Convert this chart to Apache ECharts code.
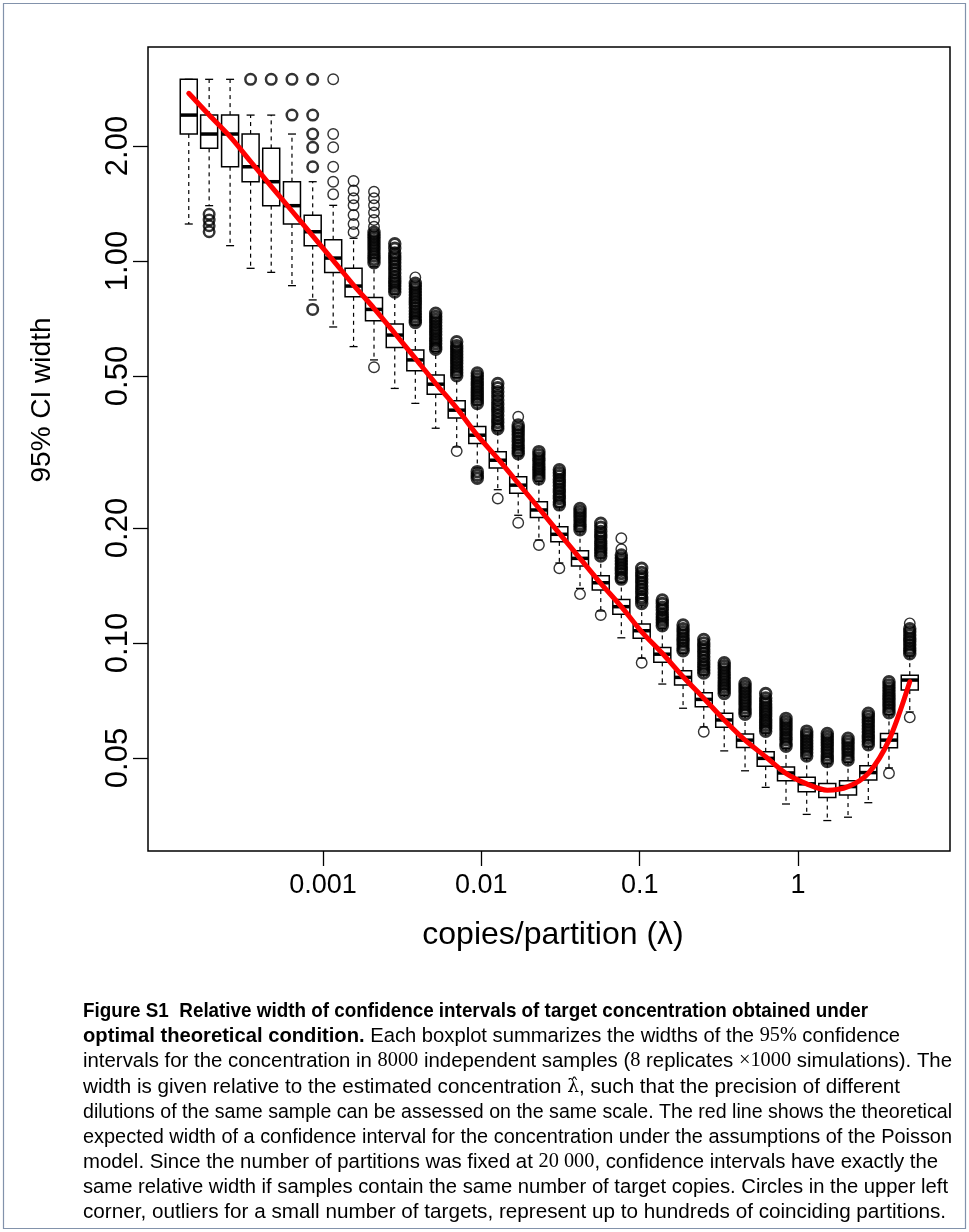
<!DOCTYPE html>
<html><head><meta charset="utf-8">
<script src="https://cdn.jsdelivr.net/npm/echarts@6/dist/echarts.min.js"></script>
<style>html,body{margin:0;padding:0;background:#fff;}#c{width:969px;height:1232px;}</style>
</head><body><div id="c"></div>
<script>
// ---------- data ----------
const lambda = [1.42e-4, 1.91e-4, 2.59e-4, 3.49e-4, 4.71e-4, 6.37e-4, 8.61e-4, 1.16e-3, 1.56e-3, 2.10e-3,
  2.84e-3, 3.83e-3, 5.15e-3, 6.99e-3, 9.43e-3, 0.0127, 0.0171, 0.0231, 0.0311, 0.0420,
  0.0568, 0.0766, 0.103, 0.139, 0.188, 0.254, 0.342, 0.463, 0.625, 0.840,
  1.135, 1.531, 2.070, 2.780, 3.755, 5.08];
const lowerWhisker = [1.25, 1.396, 1.097, 0.957, 0.934, 0.862, 0.791, 0.672, 0.597, 0.551,
  0.464, 0.424, 0.365, 0.326, 0.287, 0.252, 0.216, 0.186, 0.162, 0.139,
  0.1213, 0.1032, 0.0913, 0.0781, 0.0675, 0.0603, 0.0522, 0.0463, 0.0419, 0.0379,
  0.0356, 0.0343, 0.0350, 0.0382, 0.0471, 0.0660];
const q1 = [2.15, 1.972, 1.765, 1.613, 1.396, 1.250, 1.097, 0.933, 0.806, 0.698,
  0.594, 0.516, 0.448, 0.388, 0.333, 0.287, 0.2465, 0.213, 0.184, 0.159,
  0.1376, 0.119, 0.1029, 0.089, 0.0776, 0.0681, 0.0602, 0.0533, 0.0476, 0.0436,
  0.0408, 0.0394, 0.0400, 0.0438, 0.0532, 0.0753];
const median = [2.41, 2.15, 2.15, 1.765, 1.613, 1.396, 1.193, 1.018, 0.860, 0.747,
  0.640, 0.551, 0.476, 0.407, 0.350, 0.301, 0.259, 0.223, 0.1926, 0.1666,
  0.1438, 0.1245, 0.1077, 0.0935, 0.0813, 0.0712, 0.0629, 0.0557, 0.0499, 0.0457,
  0.0428, 0.0412, 0.0421, 0.0458, 0.0557, 0.0800];
const q3 = [2.99, 2.41, 2.41, 2.15, 1.972, 1.613, 1.317, 1.137, 0.957, 0.803,
  0.684, 0.585, 0.503, 0.431, 0.369, 0.317, 0.2724, 0.2344, 0.2016, 0.1744,
  0.150, 0.130, 0.1121, 0.0974, 0.0846, 0.0741, 0.0655, 0.0578, 0.0519, 0.0474,
  0.0445, 0.0429, 0.0436, 0.0477, 0.0580, 0.0824];
const upperWhisker = [2.99, 2.99, 2.99, 2.41, 2.41, 2.15, 1.613, 1.399, 1.147, 0.966,
  0.819, 0.680, 0.580, 0.495, 0.420, 0.360, 0.309, 0.265, 0.227, 0.196,
  0.167, 0.144, 0.125, 0.109, 0.094, 0.0825, 0.0728, 0.0643, 0.0581, 0.0529,
  0.0498, 0.0483, 0.0487, 0.0535, 0.0650, 0.0925];
const outliers = [
  [],
  [1.325, 1.280, 1.237, 1.193],
  [],
  [2.99],
  [2.99],
  [2.99, 2.41],
  [2.99, 2.41, 2.15, 1.985, 1.765, 0.747],
  [2.99, 2.15, 1.985, 1.765, 1.613, 1.495],
  [1.62, 1.53, 1.46, 1.40, 1.32, 1.25, 1.19],
  [1.518, 1.46, 1.40, 1.34, 1.28, 1.23, 1.19, 1.17, 1.15, 1.13, 1.11, 1.09, 1.07, 1.05, 1.03, 1.01, 0.99, 0.527],
  [1.11, 1.08, 1.05, 1.03, 1.01, 0.99, 0.97, 0.95, 0.93, 0.91, 0.89, 0.875, 0.86, 0.845, 0.83],
  [0.906, 0.874, 0.86, 0.845, 0.83, 0.815, 0.80, 0.785, 0.77, 0.755, 0.74, 0.727, 0.714, 0.701, 0.69],
  [0.730, 0.716, 0.703, 0.690, 0.677, 0.665, 0.653, 0.641, 0.629, 0.618, 0.607, 0.596, 0.588],
  [0.615, 0.600, 0.590, 0.580, 0.569, 0.559, 0.549, 0.539, 0.529, 0.519, 0.510, 0.501, 0.318],
  [0.509, 0.500, 0.491, 0.482, 0.473, 0.465, 0.456, 0.448, 0.440, 0.432, 0.424, 0.281, 0.275, 0.270],
  [0.478, 0.466, 0.455, 0.444, 0.433, 0.422, 0.413, 0.404, 0.395, 0.386, 0.378, 0.370, 0.364, 0.239],
  [0.391, 0.372, 0.365, 0.358, 0.351, 0.344, 0.337, 0.330, 0.324, 0.318, 0.313, 0.2065],
  [0.317, 0.311, 0.305, 0.300, 0.294, 0.289, 0.284, 0.279, 0.274, 0.269, 0.1805],
  [0.284, 0.279, 0.274, 0.268, 0.263, 0.258, 0.253, 0.248, 0.243, 0.239, 0.234, 0.230, 0.157],
  [0.225, 0.221, 0.217, 0.213, 0.209, 0.205, 0.2015, 0.198, 0.1343],
  [0.2058, 0.201, 0.196, 0.192, 0.189, 0.185, 0.182, 0.178, 0.175, 0.172, 0.169, 0.1184],
  [0.188, 0.176, 0.170, 0.167, 0.164, 0.161, 0.158, 0.155, 0.152, 0.149, 0.147],
  [0.157, 0.153, 0.150, 0.147, 0.144, 0.141, 0.138, 0.135, 0.132, 0.130, 0.127, 0.0888],
  [0.1296, 0.127, 0.124, 0.122, 0.119, 0.117, 0.115, 0.113, 0.111],
  [0.1115, 0.109, 0.107, 0.105, 0.103, 0.101, 0.099, 0.097, 0.0955],
  [0.1022, 0.100, 0.098, 0.096, 0.094, 0.092, 0.090, 0.088, 0.0865, 0.085, 0.0835, 0.0586],
  [0.0888, 0.0872, 0.0856, 0.0840, 0.0825, 0.0810, 0.0795, 0.0780, 0.0766, 0.0752, 0.0738],
  [0.0784, 0.0770, 0.0756, 0.0742, 0.0728, 0.0715, 0.0702, 0.0689, 0.0676, 0.0663, 0.0651],
  [0.0738, 0.0718, 0.0705, 0.0692, 0.0679, 0.0667, 0.0655, 0.0643, 0.0631, 0.0620, 0.0609, 0.0598, 0.0588],
  [0.0635, 0.0623, 0.0612, 0.0601, 0.0590, 0.0579, 0.0568, 0.0558, 0.0547, 0.0537],
  [0.0588, 0.0577, 0.0567, 0.0556, 0.0546, 0.0536, 0.0526, 0.0516, 0.0506],
  [0.0580, 0.0569, 0.0559, 0.0549, 0.0539, 0.0529, 0.0519, 0.0509, 0.0499, 0.0490],
  [0.0563, 0.0553, 0.0543, 0.0533, 0.0523, 0.0513, 0.0503, 0.0494],
  [0.0655, 0.0643, 0.0631, 0.0619, 0.0607, 0.0596, 0.0585, 0.0574, 0.0563, 0.0552, 0.0542],
  [0.0792, 0.0777, 0.0763, 0.0749, 0.0735, 0.0721, 0.0708, 0.0695, 0.0682, 0.0669, 0.0657, 0.0456],
  [0.1126, 0.109, 0.107, 0.105, 0.103, 0.101, 0.099, 0.097, 0.0955, 0.0938, 0.0639]
];
const theory = [2.748, 2.41, 2.116, 1.822, 1.569, 1.352, 1.164, 1.004, 0.865, 0.752,
  0.647, 0.556, 0.478, 0.412, 0.350, 0.304, 0.262, 0.2253, 0.1937, 0.1666,
  0.1433, 0.1245, 0.1070, 0.0940, 0.0816, 0.0717, 0.0629, 0.0557, 0.0504, 0.0456,
  0.0428, 0.0412, 0.0421, 0.0456, 0.0557, 0.0792];
const xTicks = [0.001, 0.01, 0.1, 1];
const xTickLabels = ['0.001', '0.01', '0.1', '1'];
const yTicks = [0.05, 0.1, 0.2, 0.5, 1, 2];
const yTickLabels = ['0.05', '0.10', '0.20', '0.50', '1.00', '2.00'];
const xTitle = 'copies/partition (λ)';
const yTitle = '95% CI width';
const captionLines = [
  '{b|Figure S1  Relative width of confidence intervals of target concentration obtained under}',
  '{b|optimal theoretical condition.} Each boxplot summarizes the widths of the {m|95%} confidence',
  'intervals for the concentration in {m|8000} independent samples ({m|8} replicates {m|×1000} simulations). The',
  'width is given relative to the estimated concentration {h|λ̂}, such that the precision of different',
  'dilutions of the same sample can be assessed on the same scale. The red line shows the theoretical',
  'expected width of a confidence interval for the concentration under the assumptions of the Poisson',
  'model. Since the number of partitions was fixed at {m|20 000}, confidence intervals have exactly the',
  'same relative width if samples contain the same number of target copies. Circles in the upper left',
  'corner, outliers for a small number of targets, represent up to hundreds of coinciding partitions.'
];

// ---------- layout constants ----------
const captionY = [1011, 1036, 1061, 1087, 1112, 1137, 1162, 1187, 1212];
const captionRight = [868, 900, 952, 900, 952, 952, 938, 948, 946];
const CAP_LEFT = 83;

// ---------- build series data ----------
const boxData = lambda.map((l, i) => [l, lowerWhisker[i], q1[i], median[i], q3[i], upperWhisker[i]]);
const boldOut = [], denseOut = [], thinOut = [];
outliers.forEach((arr, i) => arr.forEach(v => {
  const crowded = arr.some(w => w !== v && Math.abs(Math.log10(w / v)) < 0.012);
  (i < 7 ? boldOut : (crowded ? denseOut : thinOut)).push([lambda[i], v]);
}));
const lineData = lambda.map((l, i) => [l, theory[i]]);

const FONT = "'Liberation Sans', Arial, Helvetica, sans-serif";
const SERIF = "'Liberation Serif', 'DejaVu Serif', serif";
const chart = echarts.init(document.getElementById('c'), null, {renderer: 'canvas'});

function renderBox(params, api) {
  const x = api.value(0);
  const pLo = api.coord([x, api.value(1)]);
  const pQ1 = api.coord([x, api.value(2)]);
  const pMed = api.coord([x, api.value(3)]);
  const pQ3 = api.coord([x, api.value(4)]);
  const pHi = api.coord([x, api.value(5)]);
  const cx = pMed[0], hw = 8.5, cw = 4;
  const solid = {stroke: '#000', lineWidth: 1.3, fill: null};
  const dashed = {stroke: '#000', lineWidth: 1.2, lineDash: [4, 4], fill: null};
  return {type: 'group', children: [
    {type: 'line', shape: {x1: cx, y1: pQ3[1], x2: cx, y2: pHi[1]}, style: dashed},
    {type: 'line', shape: {x1: cx, y1: pQ1[1], x2: cx, y2: pLo[1]}, style: dashed},
    {type: 'line', shape: {x1: cx - cw, y1: pHi[1], x2: cx + cw, y2: pHi[1]}, style: solid},
    {type: 'line', shape: {x1: cx - cw, y1: pLo[1], x2: cx + cw, y2: pLo[1]}, style: solid},
    {type: 'rect', shape: {x: cx - hw, y: pQ3[1], width: 2 * hw, height: pQ1[1] - pQ3[1]},
      style: {fill: '#fff', stroke: '#000', lineWidth: 1.5}},
    {type: 'line', shape: {x1: cx - hw, y1: pMed[1], x2: cx + hw, y2: pMed[1]},
      style: {stroke: '#000', lineWidth: 3.5}}
  ]};
}

// caption: rich text, each line fitted horizontally to the reference line length
const CAP_SIZE = 20.5;
const rich = {
  b: {fontFamily: FONT, fontSize: CAP_SIZE, fontWeight: 'bold', fill: '#000'},
  m: {fontFamily: SERIF, fontSize: CAP_SIZE, fill: '#000'},
  h: {fontFamily: "'DejaVu Serif', serif", fontSize: CAP_SIZE - 2, fill: '#000'}
};
const mctx = document.createElement('canvas').getContext('2d');
function measureLine(line) {
  let w = 0, m;
  const re = /\{(\w)\|([^}]*)\}|([^{]+)/g;
  while ((m = re.exec(line))) {
    if (m[3] !== undefined) {
      mctx.font = CAP_SIZE + 'px ' + FONT; w += mctx.measureText(m[3]).width;
    } else {
      const st = rich[m[1]];
      mctx.font = (st.fontWeight || 'normal') + ' ' + st.fontSize + 'px ' + st.fontFamily;
      w += mctx.measureText(m[2]).width;
    }
  }
  return w;
}
const captionGraphics = captionLines.map((t, i) => ({
  type: 'text', x: CAP_LEFT, y: captionY[i],
  scaleX: (captionRight[i] - CAP_LEFT) / measureLine(t), scaleY: 1,
  style: {text: t, fill: '#000', fontFamily: FONT, fontSize: CAP_SIZE, verticalAlign: 'middle', textAlign: 'left', rich: rich}
}));

chart.setOption({
  animation: false,
  backgroundColor: '#fff',
  grid: {left: 148, top: 47, right: 19, bottom: 381, containLabel: false, outerBoundsMode: 'none',
    show: true, borderColor: '#000', borderWidth: 1.5, backgroundColor: 'transparent'},
  xAxis: {
    type: 'log', logBase: 10, min: 7.85e-5, max: 9.12,
    axisLine: {show: false},
    splitLine: {show: false},
    minorTick: {show: false},
    axisTick: {show: true, inside: false, length: 15, customValues: xTicks, lineStyle: {color: '#000', width: 1.3}},
    axisLabel: {show: true, customValues: xTicks, margin: 21, fontSize: 27, fontFamily: FONT, color: '#000',
      formatter: v => xTickLabels[xTicks.findIndex(t => Math.abs(Math.log10(t) - Math.log10(v)) < 1e-6)] || ''}
  },
  yAxis: {
    type: 'log', logBase: 10, min: 0.02855, max: 3.633,
    axisLine: {show: false},
    splitLine: {show: false},
    minorTick: {show: false},
    axisTick: {show: true, inside: false, length: 15, customValues: yTicks, lineStyle: {color: '#000', width: 1.3}},
    axisLabel: {show: true, customValues: yTicks, rotate: 90, margin: 14, fontSize: 31, fontFamily: FONT, color: '#000',
      formatter: v => yTickLabels[yTicks.findIndex(t => Math.abs(Math.log10(t) - Math.log10(v)) < 1e-6)] || ''}
  },
  series: [
    {type: 'custom', renderItem: renderBox, data: boxData, encode: {x: 0, y: [1, 2, 3, 4, 5]}, z: 3, silent: true},
    {type: 'scatter', data: thinOut, symbol: 'circle', symbolSize: 10.5, z: 4, silent: true,
      itemStyle: {color: 'transparent', borderColor: '#000', borderWidth: 1.4}},
    {type: 'scatter', data: denseOut, symbol: 'circle', symbolSize: 10.5, z: 4, silent: true,
      itemStyle: {color: 'transparent', borderColor: '#000', borderWidth: 3}},
    {type: 'scatter', data: boldOut, symbol: 'circle', symbolSize: 10.5, z: 4, silent: true,
      itemStyle: {color: 'transparent', borderColor: '#000', borderWidth: 2.5}},
    {type: 'line', data: lineData, smooth: 0.3, showSymbol: false, symbol: 'none', z: 6, silent: true,
      lineStyle: {color: '#ff0000', width: 5, cap: 'round', join: 'round'}}
  ],
  graphic: [
    {type: 'rect', shape: {x: 3.5, y: 3.5, width: 962, height: 1225}, style: {fill: null, stroke: '#8292ab', lineWidth: 1.2}, z: 100},
    {type: 'text', x: 553, y: 935, style: {text: xTitle, fontFamily: FONT, fontSize: 32, fill: '#000', textAlign: 'center', verticalAlign: 'middle'}},
    {type: 'text', x: 42, y: 400, rotation: Math.PI / 2, style: {text: yTitle, fontFamily: FONT, fontSize: 28, fill: '#000', textAlign: 'center', verticalAlign: 'middle'}}
  ].concat(captionGraphics)
});
</script></body></html>
